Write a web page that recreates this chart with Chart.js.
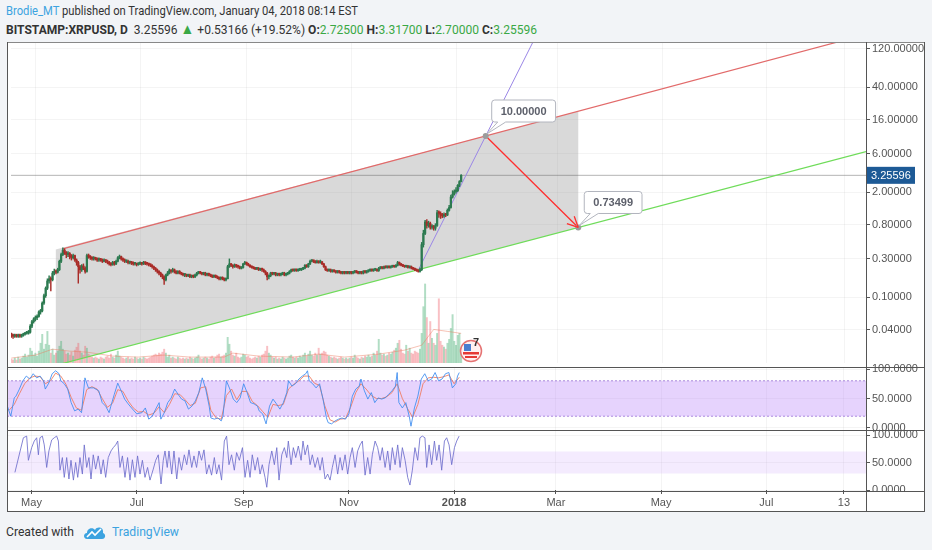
<!DOCTYPE html>
<html><head><meta charset="utf-8">
<script src="https://cdn.jsdelivr.net/npm/chart.js@4.4.0/dist/chart.umd.min.js"></script>
<style>
html,body{margin:0;padding:0;width:932px;height:550px;background:#f2f4f7;overflow:hidden;font-family:"Liberation Sans Narrow","Roboto","Liberation Sans",sans-serif;}
.t{position:absolute;white-space:nowrap;display:inline-block;transform-origin:0 50%;color:#333;font-size:13px;line-height:16px}
#frame{position:absolute;left:7px;top:42px;width:918px;height:470px;background:#fff}
canvas{position:absolute;left:7px}
.ln{position:absolute;background:#555;z-index:10}
.g{color:#3aa845}
b{font-weight:bold}
</style></head><body>
<div class="t" id="h1" style="left:6px;top:3px"><span style="color:#3ca3e0">Brodie_MT</span> published on TradingView.com, January 04, 2018 08:14 EST</div>
<div class="t" id="h2" style="left:6px;top:21px"><b>BITSTAMP:XRPUSD, D</b>&nbsp; 3.25596 <span class="g" style="font-size:15px">&#9650;</span> +0.53166 (+19.52%) <b>O:</b><span class="g">2.72500</span> <b>H:</b><span class="g">3.31700</span> <b>L:</b><span class="g">2.70000</span> <b>C:</b><span class="g">3.25596</span></div>
<div id="frame"></div>
<canvas id="cMain" width="918" height="333" style="top:34px"></canvas>
<canvas id="cRsi" width="918" height="71" style="top:359px"></canvas>
<canvas id="cSto" width="918" height="90" style="top:422px"></canvas>
<div style="position:absolute;left:867px;top:492px;width:57px;height:19px;background:#fff;z-index:9"></div>
<div class="ln" style="left:7px;top:42px;width:918px;height:1px;background:#888"></div>
<div class="ln" style="left:7px;top:42px;width:1px;height:470px"></div>
<div class="ln" style="left:924px;top:42px;width:1px;height:470px"></div>
<div class="ln" style="left:7px;top:511px;width:918px;height:1px"></div>
<div class="ln" style="left:7px;top:367px;width:918px;height:1px"></div>
<div class="ln" style="left:7px;top:430px;width:918px;height:1px"></div>
<div class="ln" style="left:7px;top:491px;width:918px;height:1px"></div>
<div class="ln" style="left:866px;top:42px;width:1px;height:470px"></div>
<div class="t" id="f1" style="left:6px;top:524px">Created with</div>
<svg style="position:absolute;left:83px;top:524px" width="23" height="16" viewBox="0 0 23 16"><path d="M4 15 C0 15 0 9 4 9 C4 4 10 3 12 6 C14 2 21 3 20 9 C23 10 23 15 19 15 Z" fill="#3ca3e0"/><path d="M4 13 L9 8 L12 11 L18 5" stroke="#fff" stroke-width="1.6" fill="none"/></svg>
<div class="t" id="f2" style="left:112px;top:524px;color:#3ca3e0">TradingView</div>
<script>
// ---------- data ----------
const firstDay = -14;            // 17 Apr 2017 (day 0 = 1 May 2017)
const firstOpen = 0.0345;
const closes = [
0.034,0.033,0.034,0.033,0.034,0.033,0.034,0.035,0.036,0.036,0.037,0.044,0.050,0.054,
0.056,0.058,0.066,0.068,0.085,0.105,0.13,0.16,0.17,0.165,
0.20,0.21,0.205,0.22,0.28,0.34,0.385,0.36,0.34,0.35,
0.32,0.31,0.33,0.29,0.27,0.24,0.22,0.245,0.23,0.21,
0.33,0.32,0.31,0.30,0.31,0.30,0.29,0.30,0.29,0.28,
0.29,0.28,0.27,0.26,0.255,0.27,0.26,0.28,0.31,0.32,
0.30,0.29,0.28,0.28,0.27,0.27,0.265,0.26,0.26,0.255,
0.26,0.265,0.26,0.27,0.265,0.26,0.255,0.25,0.24,0.23,
0.22,0.21,0.20,0.19,0.18,0.165,0.19,0.20,0.215,0.21,
0.22,0.21,0.20,0.21,0.20,0.195,0.19,0.19,0.185,0.19,
0.18,0.185,0.18,0.19,0.20,0.205,0.20,0.195,0.20,0.19,
0.195,0.19,0.185,0.18,0.185,0.18,0.175,0.17,0.175,0.17,
0.165,0.17,0.24,0.26,0.25,0.24,0.25,0.245,0.24,0.23,
0.235,0.26,0.27,0.26,0.25,0.24,0.235,0.23,0.225,0.23,
0.22,0.225,0.22,0.21,0.20,0.18,0.185,0.20,0.195,0.20,
0.19,0.195,0.19,0.195,0.20,0.19,0.195,0.20,0.21,0.22,
0.215,0.22,0.215,0.22,0.22,0.225,0.23,0.25,0.24,0.26,
0.28,0.285,0.28,0.27,0.28,0.27,0.275,0.26,0.24,0.22,
0.215,0.22,0.21,0.215,0.21,0.205,0.21,0.205,0.20,0.205,
0.20,0.205,0.20,0.205,0.20,0.205,0.21,0.205,0.20,0.205,
0.20,0.21,0.205,0.21,0.215,0.22,0.215,0.22,0.22,0.215,
0.23,0.235,0.23,0.24,0.235,0.24,0.235,0.24,0.245,0.24,
0.25,0.27,0.26,0.25,0.245,0.24,0.245,0.235,0.24,0.23,
0.225,0.22,0.215,0.21,0.22,0.45,0.62,0.86,0.78,0.83,
0.74,0.76,0.72,0.78,1.12,1.10,1.05,1.02,1.06,1.05,
1.20,1.30,1.75,1.90,2.05,2.10,2.45,2.725,3.256];
const highs = [
0.036,0.035,0.035,0.035,0.035,0.035,0.035,0.036,0.037,0.038,0.039,0.046,0.052,0.056,
0.059,0.061,0.068,0.071,0.088,0.11,0.135,0.17,0.185,0.18,
0.21,0.225,0.22,0.23,0.29,0.355,0.41,0.40,0.37,0.37,
0.36,0.34,0.345,0.335,0.30,0.28,0.25,0.255,0.26,0.24,
0.345,0.345,0.33,0.32,0.32,0.315,0.31,0.31,0.305,0.30,
0.30,0.295,0.29,0.28,0.27,0.28,0.28,0.29,0.32,0.335,
0.325,0.31,0.30,0.29,0.29,0.28,0.28,0.275,0.27,0.265,
0.27,0.275,0.27,0.28,0.275,0.27,0.265,0.26,0.255,0.245,
0.235,0.225,0.215,0.205,0.195,0.185,0.195,0.21,0.225,0.22,
0.23,0.225,0.215,0.215,0.215,0.205,0.20,0.195,0.195,0.195,
0.195,0.19,0.19,0.195,0.205,0.21,0.21,0.205,0.205,0.205,
0.20,0.20,0.195,0.19,0.19,0.19,0.185,0.18,0.18,0.18,
0.175,0.175,0.25,0.30,0.265,0.255,0.26,0.255,0.25,0.245,
0.24,0.265,0.28,0.275,0.265,0.255,0.245,0.24,0.235,0.235,
0.235,0.23,0.23,0.225,0.215,0.205,0.19,0.205,0.205,0.205,
0.205,0.20,0.20,0.20,0.205,0.205,0.20,0.205,0.215,0.225,
0.225,0.225,0.225,0.225,0.225,0.23,0.235,0.255,0.255,0.265,
0.29,0.295,0.29,0.285,0.29,0.285,0.29,0.28,0.265,0.245,
0.225,0.225,0.225,0.22,0.22,0.215,0.215,0.215,0.21,0.21,
0.21,0.21,0.21,0.21,0.21,0.21,0.215,0.215,0.21,0.21,
0.21,0.215,0.215,0.215,0.22,0.225,0.225,0.225,0.225,0.225,
0.235,0.24,0.24,0.245,0.245,0.245,0.245,0.245,0.25,0.25,
0.255,0.28,0.275,0.265,0.255,0.25,0.25,0.25,0.245,0.245,
0.235,0.23,0.225,0.22,0.23,0.48,0.68,0.90,0.92,0.88,
0.86,0.80,0.78,0.82,1.20,1.18,1.15,1.10,1.12,1.10,
1.25,1.38,1.85,2.10,2.15,2.30,2.50,2.80,3.317];
const lows = [
0.032,0.031,0.032,0.032,0.032,0.032,0.032,0.033,0.034,0.035,0.035,0.036,0.042,0.048,
0.051,0.053,0.057,0.062,0.066,0.082,0.10,0.125,0.15,0.12,
0.16,0.19,0.195,0.20,0.215,0.27,0.33,0.34,0.31,0.32,
0.30,0.29,0.30,0.28,0.25,0.15,0.20,0.21,0.22,0.20,
0.205,0.305,0.295,0.29,0.29,0.29,0.28,0.28,0.28,0.27,
0.275,0.27,0.26,0.25,0.245,0.25,0.25,0.255,0.275,0.30,
0.29,0.28,0.27,0.27,0.26,0.26,0.255,0.25,0.25,0.245,
0.25,0.255,0.25,0.255,0.255,0.25,0.245,0.24,0.23,0.22,
0.21,0.20,0.19,0.18,0.17,0.145,0.16,0.185,0.195,0.20,
0.205,0.20,0.195,0.195,0.195,0.19,0.185,0.18,0.18,0.18,
0.175,0.175,0.175,0.175,0.185,0.195,0.195,0.19,0.19,0.185,
0.185,0.185,0.18,0.175,0.175,0.175,0.17,0.165,0.165,0.165,
0.16,0.16,0.17,0.235,0.24,0.23,0.235,0.235,0.23,0.225,
0.225,0.23,0.255,0.25,0.245,0.235,0.23,0.225,0.22,0.22,
0.215,0.215,0.21,0.205,0.19,0.165,0.17,0.18,0.19,0.19,
0.185,0.185,0.185,0.185,0.19,0.185,0.185,0.19,0.195,0.205,
0.21,0.21,0.21,0.21,0.215,0.215,0.22,0.225,0.235,0.235,
0.255,0.275,0.27,0.265,0.265,0.265,0.265,0.255,0.235,0.215,
0.21,0.21,0.205,0.205,0.205,0.20,0.20,0.20,0.195,0.195,
0.195,0.195,0.195,0.195,0.195,0.195,0.20,0.20,0.195,0.195,
0.195,0.195,0.20,0.20,0.205,0.21,0.21,0.21,0.215,0.21,
0.21,0.225,0.225,0.225,0.23,0.23,0.23,0.23,0.235,0.235,
0.235,0.245,0.25,0.245,0.24,0.235,0.235,0.23,0.23,0.225,
0.22,0.215,0.21,0.205,0.205,0.215,0.42,0.60,0.72,0.74,
0.70,0.70,0.68,0.68,0.76,0.98,0.95,0.97,0.98,1.00,
1.03,1.17,1.28,1.70,1.85,1.95,2.05,2.35,2.70];
const volumes = [
4,3,5,3,6,4,5,7,9,6,8,15,12,8,
10,7,12,20,29,14,19,32,18,10,
14,8,10,12,17,22,14,12,9,10,
8,11,7,13,16,20,12,10,8,17,
15,9,7,6,5,6,5,4,6,5,
4,6,7,5,9,6,5,8,12,7,
6,5,4,5,6,4,5,4,6,5,
4,5,4,6,5,4,5,6,7,8,
9,8,10,9,11,14,10,6,8,5,
6,5,4,6,5,4,5,4,5,4,
6,5,4,5,6,8,5,4,5,6,
5,4,6,7,5,6,8,9,6,7,
8,10,26,19,12,8,7,10,6,5,
6,9,8,6,7,5,4,5,6,5,
7,6,8,9,12,17,10,8,6,5,
6,4,5,4,6,5,4,5,7,8,
6,5,6,5,7,6,8,10,7,9,
12,8,7,10,8,15,9,10,12,11,
8,7,6,5,6,5,4,5,6,5,
4,5,4,5,6,5,8,6,5,4,
6,5,7,6,8,6,7,10,8,12,
24,10,8,9,7,8,10,9,11,13,
15,20,23,14,10,9,18,12,15,10,
9,12,11,10,14,30,57,80,46,20,
42,25,20,18,30,65,22,18,16,14,
20,24,35,49,22,18,28,30,12];
const volumeMA = [[-14,5],[0,8],[10,14],[20,12],[30,11],[45,7],[60,6],[75,8],[90,6],[110,6],[115,10],[130,7],[150,6],[165,9],[180,6],[200,9],[215,13],[225,18],[232,34],[240,32],[248,30]];
const rsiK = [[-14,37],[-12,20],[-10,51],[-9,54],[-7,66],[-5,80],[-3,88],[-1,83],[1,92],[3,85],[5,88],[7,80],[8,66],[10,76],[12,92],[14,97],[16,92],[17,80],[19,75],[21,66],[23,43],[25,29],[27,32],[29,26],[31,85],[33,68],[36,68],[39,63],[41,43],[43,37],[45,26],[46,37],[48,57],[50,76],[52,63],[54,49],[56,41],[58,34],[61,24],[64,26],[66,34],[68,15],[70,20],[72,32],[74,43],[75,15],[77,26],[79,43],[81,51],[83,66],[85,57],[87,49],[89,46],[91,32],[93,37],[95,46],[97,60],[99,85],[101,66],[103,37],[104,17],[106,15],[108,17],[110,12],[111,20],[113,80],[115,66],[117,49],[119,43],[121,51],
[123,75],[125,60],[127,43],[129,41],[131,37],[132,29],[134,24],[136,7],[138,37],[140,49],[142,41],[144,32],[146,43],[148,60],[149,80],[151,71],[153,75],[155,83],[157,88],[159,92],[160,97],[161,80],[163,75],[165,68],[167,75],[169,49],[171,17],[172,9],[174,7],[176,12],[178,15],[180,17],[182,15],[184,24],[186,54],[188,66],[190,71],[191,83],[193,63],[195,49],[197,60],[199,43],[201,51],[203,49],[205,51],[207,57],[209,63],[211,71],[212,94],[213,43],[215,34],[217,43],[219,20],[220,3],[222,34],[224,54],[226,83],[228,92],[230,80],[232,83],[234,94],[236,80],[238,83],[240,92],[242,94],[244,68],[246,75],[247,88],[248,94]];
const rsiD = [[-13,30],[-10,40],[-7,58],[-4,75],[-1,85],[2,88],[5,87],[8,75],[11,80],[14,93],[17,88],[20,74],[23,52],[26,34],[29,30],[32,65],[35,70],[38,66],[41,50],[44,35],[47,42],[50,65],[53,62],[56,46],[59,34],[62,27],[65,28],[68,22],[71,25],[74,36],[77,26],[80,40],[83,58],[86,57],[89,48],[92,38],[95,42],[98,68],[101,70],[104,30],[107,17],[110,15],[113,55],[116,66],[119,48],[122,62],[125,62],[128,45],[131,38],[134,28],[137,18],[140,40],[143,38],[146,40],[149,66],[152,74],[155,80],[158,88],[161,88],[164,76],[167,72],[170,38],[173,14],[176,10],[179,15],[182,16],[185,35],[188,60],[191,75],[194,66],[197,55],[200,50],[203,50],[206,53],[209,60],[212,75],[215,50],[218,33],[221,18],[224,40],[227,75],[230,85],[233,86],[236,85],[239,87],[242,90],[245,75],[248,86]];
const stoch = [[-9.6,32],[-4.7,95],[-2.8,98],[-1.8,54],[0.1,77],[1.6,89],[3.0,95],[4.0,64],[4.9,95],[6.3,98],[7.4,82],[8.8,41],[10.1,71],[11.7,91],[13.2,95],[14.6,98],[15.6,89],[16.5,36],[17.9,59],[19.0,23],[20.4,59],[21.7,20],[22.9,54],[24.3,18],[25.6,50],[26.8,23],[28.1,59],[29.5,29],[30.6,82],[32.0,41],[33.3,59],[34.5,20],[35.8,64],[37.2,38],[38.7,62],[40.3,29],[41.6,55],[43.0,23],[44.5,59],[46.1,71],[47.4,77],[48.8,82],[50.0,89],[51.3,41],[52.7,62],[54.2,23],[55.7,59],[57.1,18],[58.5,55],[60.0,23],[61.5,62],[62.9,29],[64.3,54],[65.8,23],[67.3,41],[68.7,18],[70.6,38],[72.0,54],[73.5,64],[75.1,11],[76.4,54],[77.4,71],[78.7,41],[79.7,71],[81.3,29],[82.6,71],[84.2,20],[85.5,59],[87.0,36],[88.6,64],[90.0,46],[91.3,73],[92.9,41],[94.2,62],[95.7,41],[97.1,71],[98.6,54],[100.0,73],[101.5,29],[102.9,46],[104.4,27],[106.0,59],[107.3,29],[108.7,46],[110.2,18],[111.8,89],[113.1,98],[114.5,46],[116.0,64],[117.6,36],[118.9,68],[120.5,54],
[122.3,77],[123.8,23],[125.3,54],[126.7,23],[128.0,64],[129.6,36],[131.1,59],[132.5,29],[133.8,46],[135.4,23],[136.4,5],[137.7,46],[139.3,71],[140.8,46],[142.2,77],[143.5,18],[145.1,64],[146.6,77],[148.0,59],[148.9,89],[150.5,46],[151.8,77],[153.2,59],[154.7,80],[156.3,54],[157.4,89],[158.6,64],[160.1,82],[161.5,46],[162.8,64],[164.4,41],[165.9,59],[167.3,36],[168.6,59],[170.2,20],[171.7,29],[173.1,18],[174.4,41],[176.0,64],[177.5,29],[178.9,59],[180.2,36],[181.8,64],[183.3,29],[184.7,59],[186.0,77],[187.6,41],[189.1,71],[190.5,82],[191.8,89],[193.4,27],[194.9,59],[196.3,29],[197.6,64],[199.2,89],[200.7,77],[202.1,54],[203.4,77],[205.0,41],[206.5,71],[207.9,36],[209.2,77],[210.8,46],[212.3,82],[213.7,41],[215.0,77],[216.6,54],[218.1,23],[219.4,9],[220.8,36],[222.3,77],[223.9,54],[225.2,95],[226.6,98],[228.1,95],[229.1,41],[230.5,82],[232.0,46],[233.6,89],[234.9,54],[236.3,82],[237.8,36],[239.4,89],[240.7,95],[242.1,82],[243.6,46],[245.2,77],[246.5,89],[247.9,98]];
const priceTicks = [0.04,0.1,0.3,0.8,2,6,16,40,120];
const oscTicks = [0,50,100];
const timeTicks = [0,61,123,184,245,304,365,426,471];
const timeLabels = ['May','Jul','Sep','Nov','2018','Mar','May','Jul','13'];
const channelTop = [[15.9,0.40],[483.8,181.6]];
const channelBottom = [[11.9,0.0144],[483.8,6.4]];
const projection = [[223.3,0.224],[296,267]];
const target = [[262.3,10],[316.2,0.73499]];
const shade = [[11.9,0.393],[316.2,20.2],[316.2,0.735],[11.9,0.0144]];
const lastPrice = 3.25596;

// ---------- helpers ----------
const XMIN = -14.2, XMAX = 483.8;
const FONT = 'Liberation Sans';
const pts = a => a.map(p => ({x:p[0], y:p[1]}));
const days = closes.map((c,i) => firstDay + i);
const opens = closes.map((c,i) => i === 0 ? firstOpen : closes[i-1]);
const up = closes.map((c,i) => c >= opens[i]);
const candleCol = up.map(u => u ? '#2c7a50' : '#a92c28');
const volCol = up.map(u => u ? 'rgba(70,175,115,0.42)' : 'rgba(240,90,100,0.38)');

function xAxis(show){
  return {type:'linear', min:XMIN, max:XMAX, offset:false,
    afterBuildTicks(s){ s.ticks = timeTicks.map(v => ({value:v})); },
    afterFit(s){ s.height = show ? 22 : 0; s.paddingLeft = 0; s.paddingRight = 0; },
    grid:{color:'rgba(0,0,0,0.045)', drawTicks:show, tickLength:4, tickColor:'#555', offset:false},
    border:{display:false},
    ticks:{display:show, autoSkip:false, maxRotation:0, padding:2, color:'#555',
      font: c => ({family:FONT, size:11, weight:(c.tick && c.tick.value === 245) ? 'bold' : 'normal'}),
      callback: v => { const k = timeTicks.indexOf(v); return k >= 0 ? timeLabels[k] : ''; }}
  };
}
function yAxis(type, min, max, ticks, dec){
  return {type, position:'right', min, max,
    afterBuildTicks(s){ s.ticks = ticks.map(v => ({value:v})); },
    afterFit(s){ s.width = 59; s.paddingTop = 0; s.paddingBottom = 0; },
    grid:{color:'rgba(0,0,0,0.045)', tickLength:4, tickColor:'#555'},
    border:{display:false},
    ticks:{autoSkip:false, padding:2, color:'#555', font:{family:FONT, size:11},
      callback: v => Number(v).toFixed(dec)}
  };
}
const base = {responsive:false, animation:false, events:[],
  plugins:{legend:{display:false}, tooltip:{enabled:false}},
  elements:{point:{radius:0}, line:{tension:0}}};

// ---------- overlay plugin ----------
const overlay = {
  id:'overlay',
  afterDatasetsDraw(chart){
    const {ctx, chartArea:a, scales:{x, y}} = chart;
    ctx.save();
    ctx.beginPath(); ctx.rect(a.left, a.top, a.right - a.left, a.bottom - a.top); ctx.clip();
    const x1 = x.getPixelForValue(target[0][0]), y1 = y.getPixelForValue(target[0][1]);
    const x2 = x.getPixelForValue(target[1][0]), y2 = y.getPixelForValue(target[1][1]);
    const ang = Math.atan2(y2 - y1, x2 - x1);
    ctx.strokeStyle = '#ff2e2e'; ctx.lineWidth = 1.3;
    [-1, 1].forEach(s => { ctx.beginPath(); ctx.moveTo(x2, y2);
      ctx.lineTo(x2 - 12*Math.cos(ang + s*0.45), y2 - 12*Math.sin(ang + s*0.45)); ctx.stroke(); });
    // flag icon
    const fx = a.left + 460, fy = a.top + 309;
    ctx.fillStyle = 'rgba(255,240,240,0.9)'; ctx.strokeStyle = '#e57373'; ctx.lineWidth = 1.5;
    ctx.beginPath(); ctx.arc(fx, fy, 10.5, 0, Math.PI*2); ctx.fill(); ctx.stroke();
    ctx.fillStyle = '#e53935'; ctx.fillRect(fx - 8, fy + 1, 16, 2.5); ctx.fillRect(fx - 6, fy + 5, 12, 2);
    ctx.fillStyle = '#4a7fd0'; ctx.fillRect(fx - 7, fy - 7, 7, 7);
    ctx.fillStyle = '#333'; ctx.font = 'bold 11px ' + FONT; ctx.textAlign = 'left'; ctx.textBaseline = 'middle';
    ctx.fillText('7', fx + 2, fy - 8);
    ctx.restore();
    // callouts
    ctx.save();
    target.forEach(([d, v], k) => {
      const px = x.getPixelForValue(d), py = y.getPixelForValue(v);
      const txt = v.toFixed(5);
      ctx.font = 'bold 11px ' + FONT;
      const w = ctx.measureText(txt).width + 18, h = 22;
      const L = px + 6, T = py - 36;
      ctx.fillStyle = '#fff'; ctx.strokeStyle = '#b2b5be'; ctx.lineWidth = 1;
      ctx.beginPath();
      ctx.moveTo(L + 3, T); ctx.lineTo(L + w - 3, T); ctx.quadraticCurveTo(L + w, T, L + w, T + 3);
      ctx.lineTo(L + w, T + h - 3); ctx.quadraticCurveTo(L + w, T + h, L + w - 3, T + h);
      ctx.lineTo(L + 14, T + h); ctx.lineTo(px + 1, py - 2); ctx.lineTo(L + 6, T + h);
      ctx.lineTo(L + 3, T + h); ctx.quadraticCurveTo(L, T + h, L, T + h - 3);
      ctx.lineTo(L, T + 3); ctx.quadraticCurveTo(L, T, L + 3, T); ctx.closePath();
      ctx.fill(); ctx.stroke();
      ctx.fillStyle = '#5d606b'; ctx.textAlign = 'center'; ctx.textBaseline = 'middle';
      ctx.fillText(txt, L + w/2, T + h/2 + 0.5);
    });
    // last price label on the axis
    const ly = y.getPixelForValue(lastPrice);
    ctx.fillStyle = '#1d5a96'; ctx.fillRect(a.right + 1, ly - 8.5, 48, 17);
    ctx.fillStyle = '#fff'; ctx.font = '11px ' + FONT; ctx.textAlign = 'left'; ctx.textBaseline = 'middle';
    ctx.fillText(lastPrice.toFixed(5), a.right + 5, ly + 0.5);
    ctx.restore();
  }
};

// ---------- main pane ----------
new Chart(document.getElementById('cMain'), {
  type:'line',
  data:{datasets:[
    {data:pts(shade), fill:'shape', backgroundColor:'rgba(150,150,150,0.36)', borderWidth:0, order:10},
    {type:'bar', yAxisID:'yv', data:days.map((d,i) => ({x:d, y:volumes[i]})), backgroundColor:volCol,
      barThickness:1.3, grouped:false, order:9},
    {yAxisID:'yv', data:pts(volumeMA), borderColor:'rgba(235,120,90,0.45)', borderWidth:1, order:8},
    {data:[{x:XMIN, y:lastPrice},{x:XMAX, y:lastPrice}], borderColor:'rgba(90,90,90,0.45)', borderWidth:1, order:7},
    {data:pts(channelTop), borderColor:'#e26a6a', borderWidth:1.2, order:5},
    {data:pts(channelBottom), borderColor:'#6fdc5a', borderWidth:1.2, order:5},
    {data:pts(projection), borderColor:'#9a86e6', borderWidth:1, order:4},
    {type:'bar', data:days.map((d,i) => ({x:d, y:[lows[i], highs[i]]})), backgroundColor:candleCol,
      barThickness:0.8, grouped:false, borderSkipped:false, order:3},
    {type:'bar', data:days.map((d,i) => ({x:d, y:[opens[i], closes[i]]})), backgroundColor:candleCol,
      barThickness:1.6, grouped:false, borderSkipped:false, minBarLength:1.5, order:2},
    {data:pts(target), borderColor:'#ff2e2e', borderWidth:1.3, order:1},
    {data:pts(target), showLine:false, pointRadius:3, pointBackgroundColor:'#9b9b9b', pointBorderWidth:0, order:0}
  ]},
  options:{...base, layout:{padding:{top:8, left:0, right:0, bottom:0}},
    scales:{
      x:xAxis(false),
      y:yAxis('logarithmic', 0.01538, 146.2, priceTicks, 5),
      yv:{type:'linear', display:false, min:0, max:325}
    }},
  plugins:[overlay]
});

// ---------- oscillator pane 1 ----------
new Chart(document.getElementById('cRsi'), {
  type:'line',
  data:{datasets:[
    {data:[{x:XMIN,y:80},{x:XMAX,y:80}], borderColor:'rgba(150,110,210,0.8)', borderWidth:1, borderDash:[2,2],
      fill:'+1', backgroundColor:'rgba(180,120,250,0.33)', order:5},
    {data:[{x:XMIN,y:20},{x:XMAX,y:20}], borderColor:'rgba(150,110,210,0.8)', borderWidth:1, borderDash:[2,2], order:5},
    {data:pts(rsiD), borderColor:'rgba(240,120,90,0.85)', borderWidth:1, order:2},
    {data:pts(rsiK), borderColor:'rgba(60,140,240,0.85)', borderWidth:1, order:1}
  ]},
  options:{...base, layout:{padding:{top:8, left:0, right:0, bottom:0}},
    scales:{x:xAxis(false), y:yAxis('linear', -3.4, 103.4, oscTicks, 4)}}
});

// ---------- oscillator pane 2 + time axis ----------
new Chart(document.getElementById('cSto'), {
  type:'line',
  data:{datasets:[
    {data:[{x:XMIN,y:70},{x:XMAX,y:70}], borderWidth:0, fill:'+1', backgroundColor:'rgba(180,120,250,0.15)', order:5},
    {data:[{x:XMIN,y:30},{x:XMAX,y:30}], borderWidth:0, order:5},
    {data:pts(stoch), borderColor:'rgba(110,110,205,0.85)', borderWidth:1, order:1}
  ]},
  options:{...base, layout:{padding:{top:8, left:0, right:0, bottom:0}},
    scales:{x:xAxis(true), y:yAxis('linear', 0, 109.1, oscTicks, 4)}}
});

// fit header/footer text widths
[['h1',352],['h2',531],['f1',68],['f2',67]].forEach(([id,w]) => {
  const e = document.getElementById(id); const r = e.getBoundingClientRect().width;
  e.style.transform = 'scaleX(' + (w / r) + ')';
});
</script>
</body></html>
